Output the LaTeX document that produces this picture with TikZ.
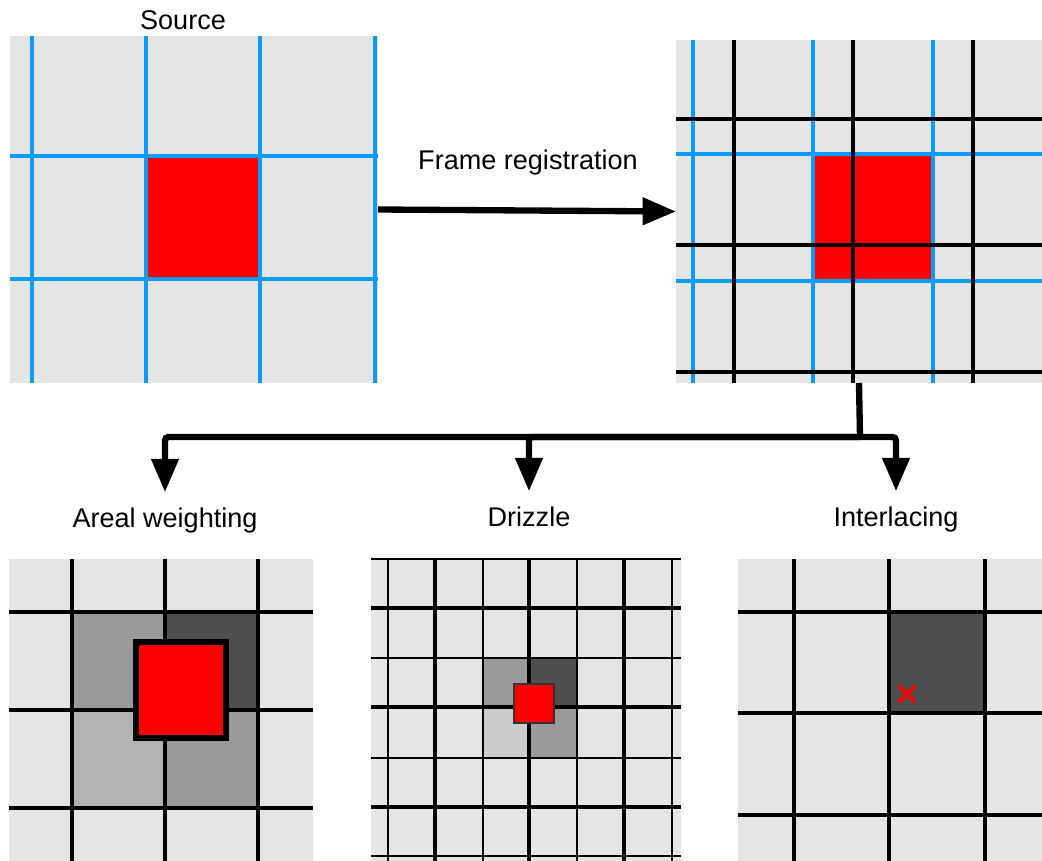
\documentclass[tikz,border=0pt]{standalone}
\usepackage{fontspec}
\setmainfont{Liberation Sans}
\usetikzlibrary{arrows.meta,fit}
\definecolor{panelgray}{HTML}{E5E5E5}
\definecolor{gridblue}{HTML}{0A9BFF}
\definecolor{cellDark}{HTML}{4F4F4F}
\definecolor{cellMid}{HTML}{9A9A9A}
\definecolor{cellLight}{HTML}{B3B3B3}
\definecolor{cellPale}{HTML}{CCCCCC}
\tikzset{
  panel/.style={fill=panelgray, inner sep=0pt, outer sep=0pt},
  srcline/.style={draw=gridblue, line width=2pt},
  regline/.style={draw=black, line width=2.8pt},
  thinline/.style={draw=black, line width=1pt},
  flow/.style={line width=3.6pt, rounded corners=2pt, -{Triangle[length=19pt,width=15pt]}},
  caption/.style={font=\fontsize{15.4}{18}\selectfont, text height=11pt, text depth=3pt, outer sep=6pt}
}
\begin{document}
\begin{tikzpicture}[x=0.02cm, y=-0.02cm]
\useasboundingbox (0,0) rectangle (1042,861);

\begin{scope}
\node[panel, fit={(10,36) (378,383)}] (src) {};
\fill[red] (146,156) rectangle (260,279);
\foreach \x in {32,146,260,375}
  \draw[srcline] (\x,36) -- (\x,383);
\foreach \y in {156,279}
  \draw[srcline] (10,\y) -- (378,\y);
\node[caption, anchor=base] (srclbl) at (183,30) {Source};
\end{scope}

\begin{scope}
\node[panel, fit={(676,40) (1042,383)}] (reg) {};
\fill[red] (814,155) rectangle (932,279);
\foreach \x in {693,813,933}
  \draw[srcline] (\x,40) -- (\x,383);
\foreach \y in {154,281}
  \draw[srcline] (676,\y) -- (1042,\y);
\foreach \x in {734,853,973}
  \draw[regline] (\x,40) -- (\x,383);
\foreach \y in {119,245,372}
  \draw[regline] (676,\y) -- (1042,\y);
\end{scope}

\draw[flow] (src.east) -- (reg.west);
\node[caption, anchor=base] (reglbl) at (528,170) {Frame registration};

\begin{scope}
\node[panel, fit={(9,559) (313,861)}] (areal) {};
\fill[cellMid] (72,612) rectangle (165,710);
\fill[cellDark] (165,612) rectangle (258,710);
\fill[cellLight] (72,710) rectangle (165,808);
\fill[cellMid] (165,710) rectangle (258,808);
\foreach \x in {72,165,258}
  \draw[regline] (\x,559) -- (\x,861);
\foreach \y in {612,710,808}
  \draw[regline] (9,\y) -- (313,\y);
\filldraw[fill=red, draw=black, line width=3pt] (136,642) rectangle (226,738);
\node[caption, anchor=base] (areallbl) at (165,528) {Areal weighting};
\end{scope}

\begin{scope}
\node[panel, fit={(371,559) (681,861)}] (driz) {};
\fill[cellMid] (483,658) rectangle (529,707);
\fill[cellDark] (529,658) rectangle (577,707);
\fill[cellPale] (483,707) rectangle (529,758);
\fill[cellMid] (529,707) rectangle (577,758);
\foreach \x in {388,483,577,672}
  \draw[thinline] (\x,559) -- (\x,861);
\foreach \y in {559,658,758,856}
  \draw[thinline] (371,\y) -- (681,\y);
\foreach \x in {435,529,624}
  \draw[regline] (\x,559) -- (\x,861);
\foreach \y in {608,707,807}
  \draw[regline] (371,\y) -- (681,\y);
\filldraw[fill=red, draw=black!80, line width=0.9pt] (514,684) rectangle (554,723);
\node[caption, anchor=base] (drizlbl) at (529,527) {Drizzle};
\end{scope}

\begin{scope}
\node[panel, fit={(738,559) (1042,861)}] (inter) {};
\fill[cellDark] (889,612) rectangle (985,713);
\foreach \x in {794,889,985}
  \draw[regline] (\x,559) -- (\x,861);
\foreach \y in {612,713,815}
  \draw[regline] (738,\y) -- (1042,\y);
\draw[red, line width=2.2pt] (899,686) -- (915,702) (899,702) -- (915,686);
\node[caption, anchor=base] (interlbl) at (896,527) {Interlacing};
\end{scope}

\coordinate (split) at (860,437);
\draw[line width=3.6pt] (reg.south) -- (split);
\draw[flow] (split) -| (areallbl);
\draw[flow] (split) -| (drizlbl);
\draw[flow] (split) -| (interlbl);
\end{tikzpicture}
\end{document}
